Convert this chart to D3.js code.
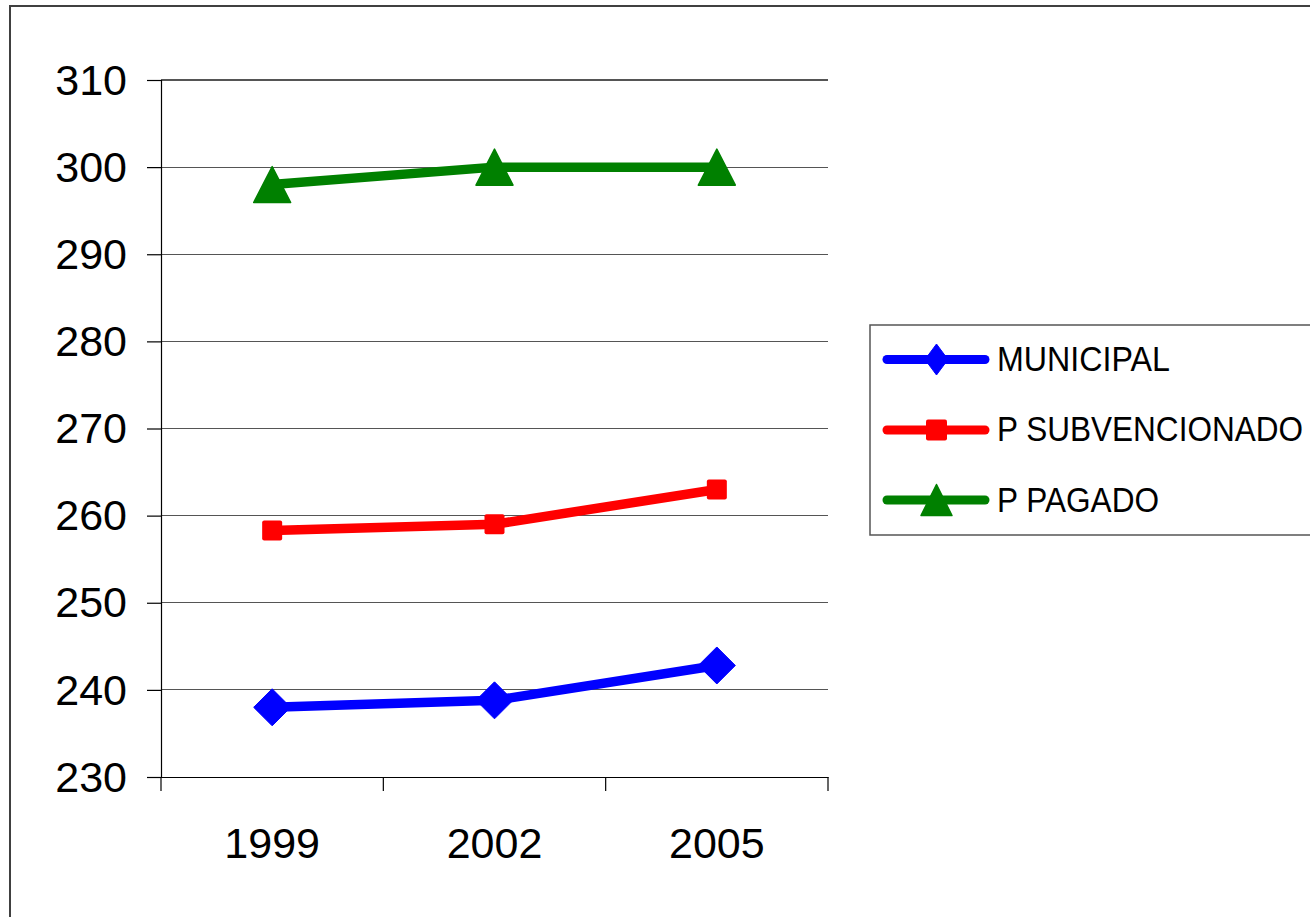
<!DOCTYPE html>
<html><head><meta charset="utf-8">
<script src="https://cdn.jsdelivr.net/npm/d3@7"></script>
<style>html,body{margin:0;padding:0;background:#fff;}svg{display:block;}</style>
</head><body>
<svg id="chart" width="1310" height="917"></svg>
<script>
const years = ["1999", "2002", "2005"];
const seriesNames = ["MUNICIPAL", "P SUBVENCIONADO", "P PAGADO"];
const municipal = [238, 238.8, 242.8];
const subvencionado = [258.3, 259, 263];
const pagado = [298, 300, 300];
const yTicks = [230, 240, 250, 260, 270, 280, 290, 300, 310];

const colors = ["#0000ff", "#ff0000", "#008000"];
const shapes = ["diamond", "square", "triangle"];
const series = [municipal, subvencionado, pagado];

const svg = d3.select("#chart");
const plotL = 161, plotR = 828, plotT = 80, plotB = 777;

const x = d3.scaleBand().domain(years).range([plotL, plotR]).padding(0);
const y = d3.scaleLinear().domain([230, 310]).range([plotB, plotT]);

// outer frame
svg.append("rect").attr("x", 10).attr("y", 6).attr("width", 1320).attr("height", 930)
  .attr("fill", "none").attr("stroke", "#404040").attr("stroke-width", 2);

// gridlines
svg.append("g").selectAll("line").data(yTicks.filter(d => d > 230)).join("line")
  .attr("x1", plotL).attr("x2", plotR).attr("y1", d => y(d)).attr("y2", d => y(d))
  .attr("stroke", "#555").attr("stroke-width", 1.2).attr("shape-rendering", "crispEdges");

// y axis
const yAxis = svg.append("g").attr("transform", `translate(${plotL},0)`)
  .call(d3.axisLeft(y).tickValues(yTicks).tickSize(14).tickPadding(20).tickFormat(d3.format("d")));
yAxis.select(".domain").attr("stroke", "#000").attr("stroke-width", 1.2);
yAxis.selectAll(".tick line").attr("stroke", "#000").attr("stroke-width", 1.2);
yAxis.selectAll(".tick text").attr("font-family", "'Liberation Sans', Arial, sans-serif")
  .attr("font-size", 43).attr("fill", "#000").attr("dy", "0.33em");

// x axis
const xAxis = svg.append("g").attr("transform", `translate(0,${plotB})`)
  .call(d3.axisBottom(x).tickSize(0).tickPadding(0));
xAxis.select(".domain").attr("stroke", "#000").attr("stroke-width", 1.2);
xAxis.selectAll(".tick text").attr("font-family", "'Liberation Sans', Arial, sans-serif")
  .attr("font-size", 43).attr("fill", "#000").attr("y", 81).attr("dy", 0);
// category boundary ticks
const bounds = years.map(d => x(d)).concat([x(years[years.length - 1]) + x.bandwidth()]);
svg.append("g").selectAll("line").data(bounds).join("line")
  .attr("x1", d => d).attr("x2", d => d).attr("y1", plotB).attr("y2", plotB + 14)
  .attr("stroke", "#000").attr("stroke-width", 1.2);

const cx = d => x(d) + x.bandwidth() / 2;

function marker(g, shape, size, color) {
  if (shape === "diamond") {
    const w = size.w / 2, h = size.h / 2;
    g.append("path").attr("d", `M0,${-h}L${w},0L0,${h}L${-w},0Z`).attr("fill", color)
      .attr("stroke", color).attr("stroke-width", 1).attr("stroke-linejoin", "round");
  } else if (shape === "square") {
    g.append("rect").attr("x", -size.w / 2).attr("y", -size.h / 2).attr("width", size.w).attr("height", size.h)
      .attr("rx", 2).attr("fill", color);
  } else {
    const w = size.w / 2, h = size.h / 2;
    g.append("path").attr("d", `M0,${-h}L${w},${h}L${-w},${h}Z`).attr("fill", color)
      .attr("stroke", color).attr("stroke-width", 1.5).attr("stroke-linejoin", "round");
  }
}

const line = d3.line().x((d, i) => cx(years[i])).y(d => y(d));
const chartSizes = [{w: 37, h: 37}, {w: 20, h: 20}, {w: 37, h: 36}];

series.forEach((vals, si) => {
  svg.append("path").datum(vals).attr("d", line).attr("fill", "none")
    .attr("stroke", colors[si]).attr("stroke-width", 9.5).attr("stroke-linejoin", "round");
  vals.forEach((v, i) => {
    const g = svg.append("g").attr("transform", `translate(${cx(years[i])},${y(v)})`);
    marker(g, shapes[si], chartSizes[si], colors[si]);
  });
});

// legend
const lg = svg.append("g");
lg.append("rect").attr("x", 870).attr("y", 325).attr("width", 460).attr("height", 210)
  .attr("fill", "#fff").attr("stroke", "#555").attr("stroke-width", 1.5);
const legendRowsY = [359.5, 430, 500];
const legendBase = [371, 441, 512];
const legendWidths = [173, 306, 162];
const legendSizes = [{w: 23, h: 31}, {w: 21, h: 21}, {w: 31, h: 31}];
seriesNames.forEach((name, i) => {
  lg.append("line").attr("x1", 887).attr("x2", 985).attr("y1", legendRowsY[i]).attr("y2", legendRowsY[i])
    .attr("stroke", colors[i]).attr("stroke-width", 9).attr("stroke-linecap", "round");
  const g = lg.append("g").attr("transform", `translate(936.5,${legendRowsY[i]})`);
  marker(g, shapes[i], legendSizes[i], colors[i]);
  lg.append("text").attr("x", 997).attr("y", legendBase[i]).text(name)
    .attr("font-family", "'Liberation Sans', Arial, sans-serif").attr("font-size", 35)
    .attr("textLength", legendWidths[i]).attr("lengthAdjust", "spacingAndGlyphs").attr("fill", "#000");
});
</script>
</body></html>
